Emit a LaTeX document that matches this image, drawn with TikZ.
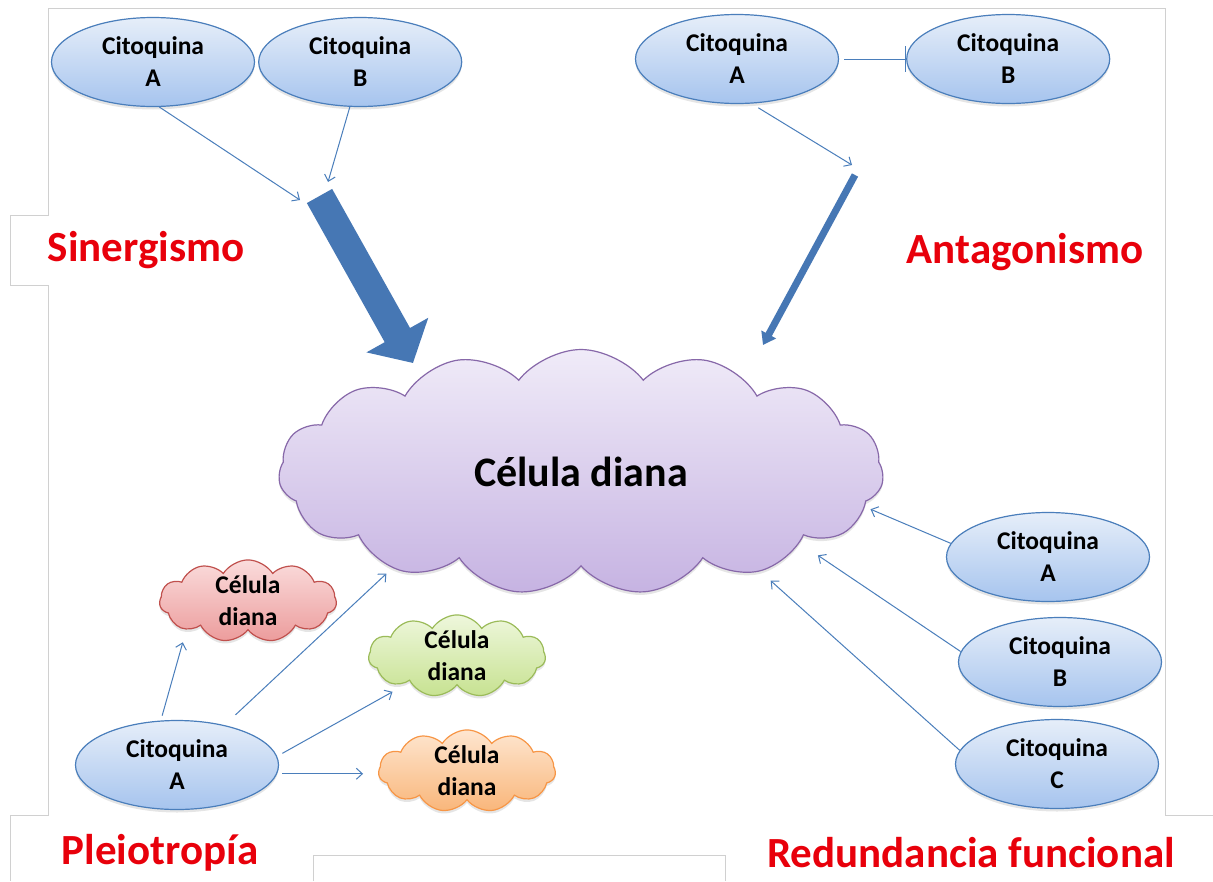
\documentclass[tikz,border=0pt]{standalone}
\usepackage{fontspec}
\setmainfont{Carlito}
\usepackage{tikz}
\usetikzlibrary{arrows.meta,positioning,shapes.geometric,shapes.symbols,shadows}

\definecolor{citoBorde}{HTML}{4A7EBB}
\definecolor{citoArriba}{HTML}{E6EEF9}
\definecolor{citoAbajo}{HTML}{A6C4EE}
\definecolor{flecha}{HTML}{4A7EBB}
\definecolor{bloque}{HTML}{4677B4}
\definecolor{nubeBorde}{HTML}{8768A9}
\definecolor{nubeArriba}{HTML}{F0EBF8}
\definecolor{nubeAbajo}{HTML}{C6B3E2}
\definecolor{rojaBorde}{HTML}{C0504D}
\definecolor{rojaArriba}{HTML}{FADCDC}
\definecolor{rojaAbajo}{HTML}{EC9C9C}
\definecolor{verdeBorde}{HTML}{9BBB59}
\definecolor{verdeArriba}{HTML}{EEF7DC}
\definecolor{verdeAbajo}{HTML}{C7E291}
\definecolor{naranjaBorde}{HTML}{F79646}
\definecolor{naranjaArriba}{HTML}{FEE6D0}
\definecolor{naranjaAbajo}{HTML}{F9B67A}
\definecolor{rojoTitulo}{HTML}{E8000B}
\definecolor{marco}{HTML}{D0D0D0}

\tikzset{
  citoquina/.style={ellipse, draw=citoBorde, line width=1.2pt,
    top color=citoArriba, bottom color=citoAbajo,
    minimum width=203pt, minimum height=89pt, inner sep=0pt,
    align=center, font=\bfseries\fontsize{25.5}{32}\selectfont,
    drop shadow={opacity=0.2, shadow xshift=0pt, shadow yshift=-3pt}},
  diana/.style={cloud, cloud ignores aspect, cloud puffs=11, cloud puff arc=115, line width=1.2pt,
    inner sep=0pt, align=center, font=\bfseries\fontsize{25.5}{32}\selectfont,
    minimum width=177pt, minimum height=78pt,
    drop shadow={opacity=0.2, shadow xshift=0pt, shadow yshift=-3pt}},
  titulo/.style={text=rojoTitulo, font=\bfseries\fontsize{43}{50}\selectfont},
  conector/.style={draw=flecha, line width=1pt, -{Straight Barb[length=6pt,width=11pt]}},
  marcolinea/.style={draw=marco, line width=0.8pt},
}

\begin{document}
\begin{tikzpicture}[x=1pt, y=-1pt]
  \useasboundingbox[fill=white] (0,0) rectangle (1213,881);

  % faint frames of the slide boxes
  \draw[marcolinea] (48,8) -- (1165,8) -- (1165,815) -- (1213,815);
  \draw[marcolinea] (48,8) -- (48,215) -- (10,215) -- (10,285) -- (48,285)
    -- (48,815) -- (10,815) -- (10,881);
  \draw[marcolinea] (313,881) -- (313,855) -- (725,855) -- (725,881);

  % target cell in the middle
  \node[diana, cloud puffs=15, cloud puff arc=105, draw=nubeBorde, top color=nubeArriba, bottom color=nubeAbajo,
    minimum width=605pt, minimum height=245pt, font=\bfseries\fontsize{42}{48}\selectfont]
    (cel) at (581,472) {Célula diana};

  % Sinergismo
  \node[citoquina] (sinA) at (153,62) {Citoquina\\A};
  \node[citoquina, right=3pt of sinA] (sinB) {Citoquina\\B};
  \coordinate (sinTail) at (319.5,196);
  \coordinate (sinTip) at (413,363);
  \coordinate (sinInA) at (300,200);
  \coordinate (sinInB) at (328,182);
  \draw[conector] (sinA.-82) -- (sinInA);
  \draw[conector] (sinB.-103) -- (sinInB);
  \draw[draw=bloque, line width=29pt, -{Triangle[length=32pt,width=69pt]}] (sinTail) -- (sinTip);
  \node[titulo] (lblSin) at (146,250) {Sinergismo};

  % Antagonismo
  \node[citoquina] (antA) at (737,59) {Citoquina\\A};
  \node[citoquina, right=67pt of antA] (antB) {Citoquina\\B};
  \draw[draw=flecha, line width=1pt, -{Bar[width=26pt]}, shorten <=5pt] (antA.east) -- (antB.west);
  \coordinate (antTail) at (855,175);
  \coordinate (antTip) at (763,345);
  \coordinate (antIn) at (852,165);
  \draw[conector, shorten <=8pt] (antA.-72) -- (antIn);
  \draw[draw=bloque, line width=7pt, -{Triangle[length=12pt,width=16pt]}] (antTail) -- (antTip);
  \node[titulo] (lblAnt) at (1025,252) {Antagonismo};

  % Pleiotropia
  \node[citoquina] (pleA) at (177,765) {Citoquina\\A};
  \node[diana, draw=rojaBorde, top color=rojaArriba, bottom color=rojaAbajo] (celRoja) at (248,601) {Célula\\diana};
  \node[diana, draw=verdeBorde, top color=verdeArriba, bottom color=verdeAbajo] (celVerde) at (457,656) {Célula\\diana};
  \node[diana, draw=naranjaBorde, top color=naranjaArriba, bottom color=naranjaAbajo] (celNaranja) at (467,771) {Célula\\diana};
  \draw[conector, shorten <=5pt, shorten >=13pt] (pleA.110) -- (celRoja.-155);
  \draw[conector, shorten <=15pt, shorten >=8pt] (pleA.40) -- (cel.-153);
  \draw[conector, shorten <=6pt, shorten >=20pt] (pleA.5) -- (celVerde.-151);
  \draw[conector, shorten <=5pt, shorten >=15pt] (pleA.-5) -- (pleA.-5 -| celNaranja.west);
  \node[titulo] (lblPle) at (160,853) {Pleiotropía};

  % Redundancia funcional
  \node[citoquina] (redA) at (1048,557) {Citoquina\\A};
  \node[citoquina] (redB) at (1060,662) {Citoquina\\B};
  \node[citoquina] (redC) at (1057,764) {Citoquina\\C};
  \draw[conector, shorten >=6pt] (redA.172) -- (cel.-7);
  \draw[conector, shorten >=22pt] (redB.174) -- (cel.-18);
  \draw[conector, shorten >=14pt] (redC.172) -- (cel.-29);
  \node[titulo] (lblRed) at (971,853) {Redundancia funcional};
\end{tikzpicture}
\end{document}
